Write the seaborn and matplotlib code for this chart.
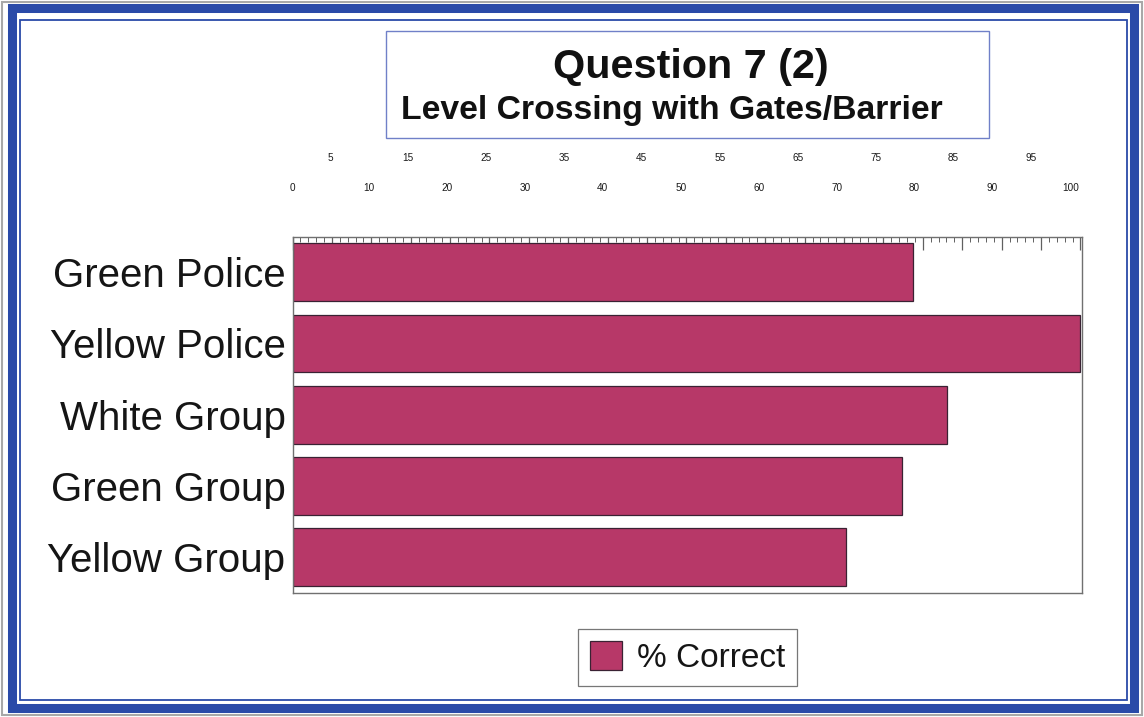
import matplotlib
matplotlib.use("Agg")
import matplotlib.pyplot as plt
import seaborn as sns
import pandas as pd
from matplotlib.patches import Rectangle
from matplotlib.ticker import MultipleLocator

categories = ["Green Police", "Yellow Police", "White Group", "Green Group", "Yellow Group"]
pct_correct = [78.8, 100.0, 83.1, 77.3, 70.2]
major_labels = [0, 10, 20, 30, 40, 50, 60, 70, 80, 90, 100]
minor_labels = [5, 15, 25, 35, 45, 55, 65, 75, 85, 95]
title = "Question 7 (2)"
subtitle = "Level Crossing with Gates/Barrier"
series_name = "% Correct"

sns.set_theme(style="white")
plt.rcParams["font.family"] = ["Liberation Sans", "DejaVu Sans"]

W, H = 1144, 717
fig = plt.figure(figsize=(W / 100, H / 100), dpi=100)
fig.patch.set_facecolor("white")

def fx(px):
    return px / W

def fy(py):
    return 1 - py / H

# decorative double blue border
fig.patches.append(Rectangle((fx(2), fy(715)), fx(1140), 713 / H, transform=fig.transFigure,
                             fill=False, edgecolor="#a8a8a8", linewidth=1.5))
fig.patches.append(Rectangle((fx(11.5), fy(707.5)), fx(1122), 700 / H, transform=fig.transFigure,
                             fill=False, edgecolor="#2a4aa8", linewidth=6.5))
fig.patches.append(Rectangle((fx(19.5), fy(700)), fx(1107.5), 680 / H, transform=fig.transFigure,
                             fill=False, edgecolor="#2a4aa8", linewidth=1.3))

# title box
fig.patches.append(Rectangle((fx(386), fy(138)), fx(603), 107 / H, transform=fig.transFigure,
                             fill=False, edgecolor="#7080c8", linewidth=1.0))
fig.text(fx(691), fy(67), title, ha="center", va="center", fontsize=29.8, fontweight="bold",
         color="#111111")
fig.text(fx(671.5), fy(110), subtitle, ha="center", va="center", fontsize=24.3, fontweight="bold",
         color="#111111")

ax = fig.add_axes([fx(292.5), fy(592.7), fx(1082 - 292.5), (592.7 - 236.7) / H])
df = pd.DataFrame({"category": categories, "value": pct_correct})
bar_color = "#B73868"
sns.barplot(data=df, x="value", y="category", orient="h", color=bar_color, width=0.81,
            edgecolor="#3a2233", linewidth=0.9, saturation=1, ax=ax, label=series_name)

ax.set_xlim(0, 100.2)
ax.set_ylim(4.5, -0.5)
ax.set_xlabel("")
ax.set_ylabel("")
for s in ax.spines.values():
    s.set_visible(True)
    s.set_color("#707070")
    s.set_linewidth(1.0)

ax.xaxis.set_major_locator(MultipleLocator(5))
ax.xaxis.set_minor_locator(MultipleLocator(1))
ax.tick_params(axis="x", which="both", top=True, bottom=False, labeltop=False,
               labelbottom=False, direction="in", color="#606060")
ax.tick_params(axis="x", which="major", length=9.5, width=0.9)
ax.tick_params(axis="x", which="minor", length=3.8, width=0.7)
ax.tick_params(axis="y", which="major", left=True, direction="in", length=9.5, width=0.9,
               color="#505050", labelsize=29, pad=5, labelcolor="#151515")

# staggered tick labels (scanned scale, slightly offset from tick marks)
def fwd(x):
    return (x - (291 - 292.5) / 7.895) * 7.895 / 7.81

def inv(v):
    return v * 7.81 / 7.895 + (291 - 292.5) / 7.895

label_style = dict(length=0, labelsize=7.2, labelcolor="#1a1a1a")

sec0 = ax.secondary_xaxis("top")
sec0.set_xticks(major_labels[:1])
sec0.set_xticklabels([str(v) for v in major_labels[:1]])
sec0.tick_params(pad=31.5, **label_style)
sec0.spines["top"].set_visible(False)

sec1 = ax.secondary_xaxis("top", functions=(fwd, inv))
sec1.set_xticks(major_labels[1:])
sec1.set_xticklabels([str(v) for v in major_labels[1:]])
sec1.tick_params(pad=31.5, **label_style)
sec1.spines["top"].set_visible(False)

sec2 = ax.secondary_xaxis("top", functions=(fwd, inv))
sec2.set_xticks(minor_labels)
sec2.set_xticklabels([str(v) for v in minor_labels])
sec2.tick_params(pad=53, **label_style)
sec2.spines["top"].set_visible(False)

leg = ax.legend(loc="center", bbox_to_anchor=(fx(687.5), fy(657.5)),
                bbox_transform=fig.transFigure, frameon=True, fancybox=False, shadow=False,
                fontsize=24, handlelength=0.95, handleheight=0.95, handletextpad=0.45,
                borderpad=0.36, borderaxespad=0)
leg.get_frame().set_edgecolor("#555555")
leg.get_frame().set_linewidth(0.9)
for t in leg.get_texts():
    t.set_color("#151515")

fig.savefig("out.png", dpi=100, facecolor="white")
